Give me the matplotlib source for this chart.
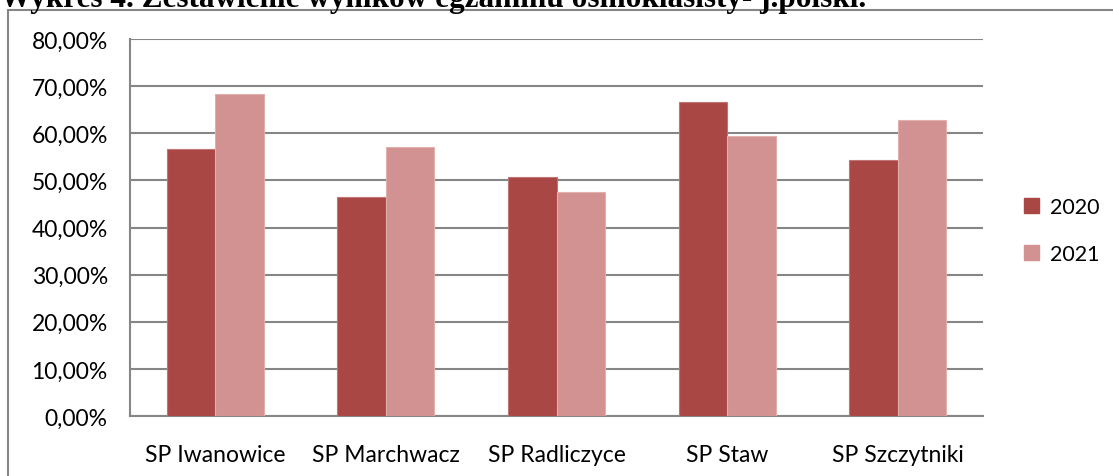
import numpy as np
import matplotlib.pyplot as plt
from matplotlib.patches import Rectangle, Patch
from matplotlib.ticker import FuncFormatter

# data
schools = ['SP Iwanowice', 'SP Marchwacz', 'SP Radliczyce', 'SP Staw', 'SP Szczytniki']
wyniki_2020 = [56.7, 46.5, 50.7, 66.6, 54.3]  # [%]
wyniki_2021 = [68.3, 57.1, 47.5, 59.4, 62.8]  # [%]
y_ticks = [0, 10, 20, 30, 40, 50, 60, 70, 80]

c2020 = '#A94744'
c2021 = '#D29291'
grid_c = '#868686'

plt.rcParams['font.family'] = ['Lato', 'DejaVu Sans']

fig = plt.figure(figsize=(11.13, 4.77), dpi=100)
ax = fig.add_axes([0.1168, 0.1258, 0.7664, 0.7903])

x = np.arange(len(schools))
w = 0.284
ax.bar(x - w/2, wyniki_2020, w, color=c2020, edgecolor='#C07574', linewidth=0.8, zorder=3)
ax.bar(x + w/2, wyniki_2021, w, color=c2021, edgecolor='#E0B0AF', linewidth=0.8, zorder=3)

ax.set_xlim(-0.5, len(schools) - 0.5)
ax.set_ylim(0, 80)
ax.set_yticks(y_ticks)
ax.yaxis.set_major_formatter(FuncFormatter(lambda v, p: ('%.2f%%' % v).replace('.', ',')))
ax.set_xticks(x)
ax.set_xticklabels(schools)
ax.tick_params(axis='both', length=0, labelsize=16.5, colors='black')
ax.tick_params(axis='x', pad=20)
ax.tick_params(axis='y', pad=16)
ax.grid(axis='y', color=grid_c, linewidth=1.5, zorder=0)
ax.set_axisbelow(True)
for s in ['top', 'right']:
    ax.spines[s].set_visible(False)
ax.spines['left'].set_color(grid_c)
ax.spines['bottom'].set_color(grid_c)
ax.spines['left'].set_linewidth(1.5)
ax.spines['bottom'].set_linewidth(1.5)

handles = [Patch(color=c2020, label='2020'), Patch(color=c2021, label='2021')]
fig.legend(handles=handles, loc='center left', bbox_to_anchor=(0.903, 0.515), frameon=False,
           fontsize=15.5, handlelength=0.7, handleheight=0.7, labelspacing=1.25, handletextpad=0.5)

# outer chart frame
fig.patches.append(Rectangle((8/1113, -0.1), 1.2, (477-11)/477 + 0.1, transform=fig.transFigure,
                             fill=False, edgecolor=grid_c, linewidth=1.5))

# title, cut at the top of the picture (as in the source)
fig.text(0.0, 1 - 7/477, 'Wykres 4. Zestawienie wyników egzaminu ósmoklasisty- j.polski.',
         family='Liberation Serif', fontweight='bold', fontsize=22.5, va='baseline', ha='left')

fig.savefig('out.png', dpi=100)
